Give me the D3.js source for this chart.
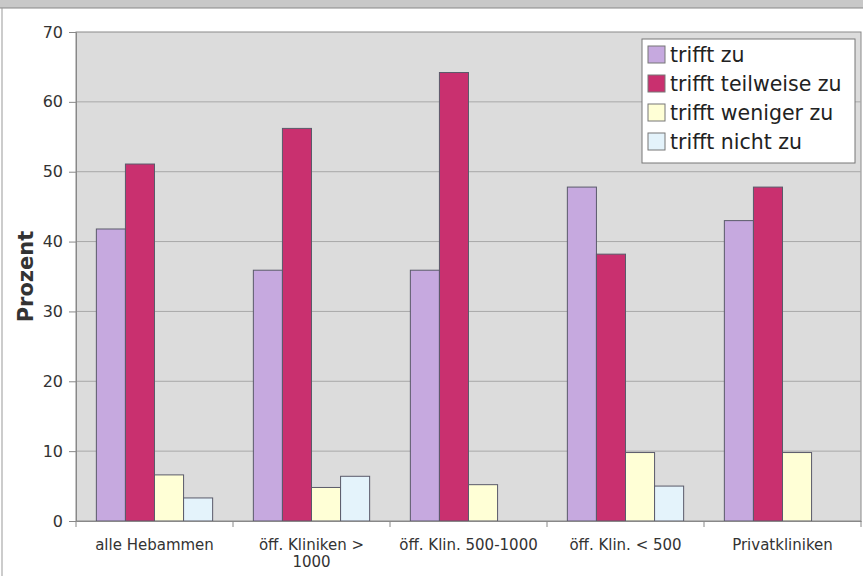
<!DOCTYPE html>
<html>
<head>
<meta charset="utf-8">
<script src="https://cdn.jsdelivr.net/npm/d3@7/dist/d3.min.js"></script>
<style>
  body { margin: 0; background: #fff; }
  svg { display: block; font-family: 'DejaVu Sans', Verdana, sans-serif; }
</style>
</head>
<body>
<div id="chart"></div>
<script>
const categories = ['alle Hebammen', 'öff. Kliniken > 1000', 'öff. Klin. 500-1000', 'öff. Klin. < 500', 'Privatkliniken'];
const seriesNames = ['trifft zu', 'trifft teilweise zu', 'trifft weniger zu', 'trifft nicht zu'];
const triffZu = [41.8, 35.9, 35.9, 47.8, 43.0];
const teilweise = [51.1, 56.2, 64.2, 38.2, 47.8];
const weniger = [6.6, 4.8, 5.2, 9.8, 9.8];
const nicht = [3.3, 6.4, 0, 5.0, 0];
const yTicks = [0, 10, 20, 30, 40, 50, 60, 70];
const colors = ['#c6a9df', '#c9306f', '#ffffd6', '#e4f3fb'];

const seriesValues = [triffZu, teilweise, weniger, nicht];
const W = 863, H = 576;
const margin = { top: 32, right: 2, bottom: 55, left: 76 };
const width = W - margin.left - margin.right;
const height = H - margin.top - margin.bottom;

const svg = d3.select('#chart').append('svg')
    .attr('width', W)
    .attr('height', H);

// top band (cut-off title area)
svg.append('rect').attr('x', 0).attr('y', 0).attr('width', W).attr('height', 8)
    .attr('fill', '#c8c8c8');
svg.append('line').attr('x1', 0).attr('x2', W).attr('y1', 8).attr('y2', 8)
    .attr('stroke', '#888');
svg.append('line').attr('x1', 2).attr('x2', 2).attr('y1', 8).attr('y2', H)
    .attr('stroke', '#999');

const g = svg.append('g').attr('transform', `translate(${margin.left},${margin.top})`);

const x0 = d3.scaleBand().domain(categories).range([0, width]).paddingInner(0).paddingOuter(0);
const x1 = d3.scaleBand().domain(seriesNames).range([0, x0.bandwidth()]).paddingOuter(0.7).paddingInner(0);
const y = d3.scaleLinear().domain([0, 70]).range([height, 0]);

// plot background
g.append('rect').attr('width', width).attr('height', height)
    .attr('fill', '#dcdcdc').attr('stroke', '#8a8a8a');

// gridlines
g.selectAll('.grid').data(yTicks.slice(1, -1)).enter().append('line')
    .attr('x1', 0).attr('x2', width)
    .attr('y1', d => y(d)).attr('y2', d => y(d))
    .attr('stroke', '#a8a8a8');

// bars
const groups = g.selectAll('.grp').data(categories).enter().append('g')
    .attr('transform', d => `translate(${x0(d)},0)`);
groups.selectAll('rect')
    .data((c, ci) => seriesNames.map((s, si) => ({ s, si, v: seriesValues[si][ci] })).filter(d => d.v > 0))
    .enter().append('rect')
    .attr('x', d => x1(d.s))
    .attr('width', x1.bandwidth())
    .attr('y', d => y(d.v))
    .attr('height', d => height - y(d.v))
    .attr('fill', d => colors[d.si])
    .attr('stroke', '#5a5a6a')
    .attr('stroke-width', 1);

// y axis
const yAxis = g.append('g').call(d3.axisLeft(y).tickValues(yTicks).tickSize(7).tickPadding(6));
yAxis.select('.domain').attr('stroke', '#888');
yAxis.selectAll('line').attr('stroke', '#888');
yAxis.selectAll('text').style('font-size', '16px').style('fill', '#333')
    .style('font-family', "'DejaVu Sans', Verdana, sans-serif");

// x axis
const xAxis = g.append('g').attr('transform', `translate(0,${height})`)
    .call(d3.axisBottom(x0).tickSize(0).tickFormat(''));
xAxis.select('.domain').attr('stroke', '#888');
g.selectAll('.xtick').data(d3.range(categories.length + 1)).enter().append('line')
    .attr('x1', i => i * x0.step()).attr('x2', i => i * x0.step())
    .attr('y1', height).attr('y2', height + 6)
    .attr('stroke', '#888');

const xlabels = [['alle Hebammen'], ['öff. Kliniken >', '1000'], ['öff. Klin. 500-1000'], ['öff. Klin. < 500'], ['Privatkliniken']];
categories.forEach((c, i) => {
    const t = g.append('text')
        .attr('x', x0(c) + x0.bandwidth() / 2)
        .attr('y', height + 29)
        .attr('text-anchor', 'middle')
        .style('font-size', '15px').style('fill', '#333');
    xlabels[i].forEach((line, li) => {
        t.append('tspan').attr('x', x0(c) + x0.bandwidth() / 2)
            .attr('dy', li === 0 ? 0 : 17).text(line);
    });
});

// y axis title
svg.append('text')
    .attr('transform', `translate(33,${margin.top + height / 2}) rotate(-90)`)
    .attr('text-anchor', 'middle')
    .style('font-size', '21px').style('font-weight', 'bold').style('fill', '#333')
    .text('Prozent');

// legend
const legend = svg.append('g').attr('transform', 'translate(642,39)');
legend.append('rect').attr('width', 213).attr('height', 124)
    .attr('fill', '#fff').attr('stroke', '#777');
seriesNames.forEach((s, i) => {
    legend.append('rect').attr('x', 6).attr('y', 7 + i * 29)
        .attr('width', 17).attr('height', 17)
        .attr('fill', colors[i]).attr('stroke', '#777');
    legend.append('text').attr('x', 28).attr('y', 23 + i * 29)
        .style('font-size', '20.5px').style('fill', '#222')
        .text(s);
});
</script>
</body>
</html>
